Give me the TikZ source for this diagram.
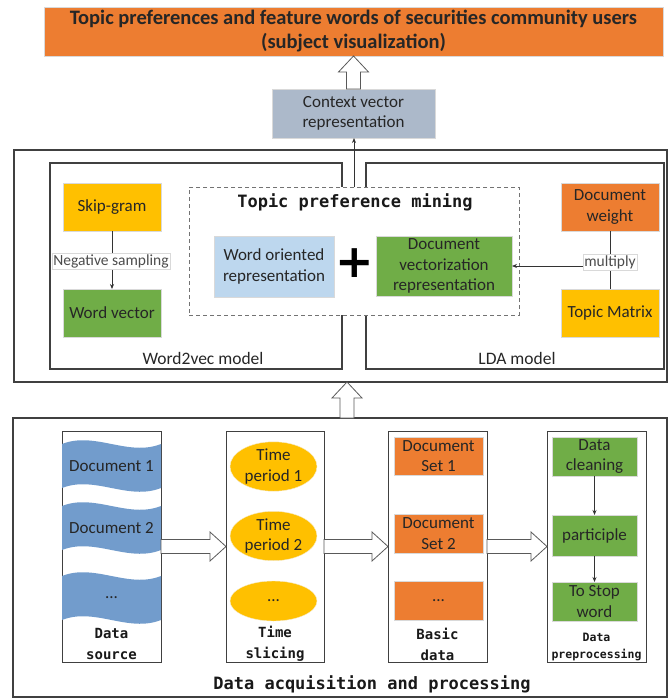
\documentclass[tikz,border=0pt]{standalone}
\usepackage{fontspec}
\setmainfont{Carlito}
\newfontfamily\heavymono{DejaVu Sans Mono}
\newfontfamily\plusfont{DejaVu Sans}
\usetikzlibrary{positioning,calc,arrows.meta,shapes.geometric}

\definecolor{offorange}{HTML}{ED7D31}
\definecolor{offyellow}{HTML}{FFC000}
\definecolor{offgreen}{HTML}{70AD47}
\definecolor{offblue}{HTML}{BDD7EE}
\definecolor{offgrayblue}{HTML}{ACB9CA}
\definecolor{wavefill}{HTML}{729CCC}
\definecolor{edgegray}{HTML}{404040}

\tikzset{
  panel/.style={draw=edgegray, line width=1.3pt, inner sep=0pt, outer sep=0pt},
  fillbox/.style={draw=black!15, line width=0.6pt, inner sep=1pt, outer sep=0pt,
    align=center, text=black!85, font=\fontsize{17}{20.5}\selectfont},
  minebox/.style={draw=black!55, dash pattern=on 4pt off 3pt, line width=0.9pt, inner sep=0pt, outer sep=0pt},
  monohead/.style={font=\heavymono\bfseries\fontsize{17}{20}\selectfont, text=black!90},
  colhead/.style={font=\heavymono\bfseries\fontsize{14}{21}\selectfont, align=center, text=black!90},
  onlinelabel/.style={fill=white, draw=black!15, line width=0.4pt, inner sep=1.5pt,
    font=\fontsize{15.5}{17}\selectfont, text=black!70},
  panelname/.style={font=\fontsize{17.5}{20}\selectfont, text=black!85},
  thinarrow/.style={draw=black!80, line width=0.8pt, -{Stealth[length=5pt,width=4pt]}},
  blockarrow/.style={draw=black!65, line width=0.8pt, fill=white},
  wavetext/.style={font=\fontsize{17}{20.5}\selectfont, text=black!85},
  period/.style={ellipse, fill=offyellow, draw=offyellow!80!black!20, inner sep=0pt,
    align=center, font=\fontsize{17}{20.5}\selectfont, text=black!85}
}

% hollow block arrows (x of #1 kept, tip at #2)
\newcommand\blockup[2]{\draw[blockarrow] let \p1=(#1), \p2=(#2) in
  (\x1-7pt,\y1) -- (\x1-7pt,\y2-16pt) -- (\x1-15pt,\y2-16pt) -- (\x1,\y2)
  -- (\x1+15pt,\y2-16pt) -- (\x1+7pt,\y2-16pt) -- (\x1+7pt,\y1) -- cycle;}
\newcommand\blockright[2]{\draw[blockarrow] let \p1=(#1), \p2=(#2) in
  (\x1,\y1-7pt) -- (\x2-16pt,\y1-7pt) -- (\x2-16pt,\y1-14.5pt) -- (\x2,\y1)
  -- (\x2-16pt,\y1+14.5pt) -- (\x2-16pt,\y1+7pt) -- (\x1,\y1+7pt) -- cycle;}
% wavy document band in the data source column
\newcommand\docwave[3]{%
  \fill[wavefill] (62,#2-22) .. controls (95,#2-35) and (128,#2-9) .. (161,#2-22)
    -- (161,#2+22) .. controls (128,#2+35) and (95,#2+9) .. (62,#2+22) -- cycle;
  \node[wavetext] (#1) at (111.5,#2) {#3};}

\begin{document}
\begin{tikzpicture}[x=1pt,y=-1pt]
\useasboundingbox (0,0) rectangle (668,698);

% result and context vector
\node[fillbox, fill=offorange, minimum width=619pt, minimum height=49pt,
  font=\bfseries\fontsize{20.5}{24}\selectfont] (result) at (353.5,31.5)
  {Topic preferences and feature words of securities community users\\(subject visualization)};
\node[fillbox, fill=offgrayblue, minimum width=163pt, minimum height=49pt,
  font=\fontsize{17}{20.5}\selectfont] (ctx) at (353.5,113.5) {Context vector\\representation};
\blockup{ctx.north}{result.south}

% model panel
\node[panel, minimum width=653pt, minimum height=232pt] (mid) at (340.5,266) {};
\node[panel, minimum width=292pt, minimum height=206pt] (w2v) at (196,266) {};
\node[panel, minimum width=298pt, minimum height=206pt] (lda) at (515,266) {};
\node[minebox, fill=white, minimum width=330pt, minimum height=128pt] (mining) at (354,251) {};
\node[monohead] (minetitle) at (355,202) {Topic preference mining};

\node[fillbox, fill=offyellow, minimum width=98pt, minimum height=48pt] (skip) at (112,207) {Skip-gram};
\node[fillbox, fill=offgreen, minimum width=98pt, minimum height=48pt] (wvec) at (112,313) {Word vector};
\draw[thinarrow] (skip) -- (wvec);
\node[onlinelabel] (negsamp) at (111,261) {Negative sampling};

\node[fillbox, fill=offblue, minimum width=120pt, minimum height=61pt] (worient) at (274,266.5) {Word oriented\\representation};
\node[font=\plusfont\bfseries\fontsize{46}{46}\selectfont] (plus) at (355,263) {+};
\node[fillbox, fill=offgreen, minimum width=136pt, minimum height=60pt] (docvec) at (444,266) {Document\\vectorization\\representation};

\node[fillbox, fill=offorange, minimum width=98pt, minimum height=48pt] (dweight) at (610,207) {Document\\weight};
\node[fillbox, fill=offyellow, minimum width=98pt, minimum height=48pt] (tmatrix) at (610,313) {Topic Matrix};
\draw[draw=black!80, line width=0.8pt] (dweight) -- (tmatrix);
\draw[thinarrow] (dweight.south |- docvec.east) -- (docvec.east);
\node[onlinelabel] (mult) at (610,262) {multiply};

\node[panelname] (w2vname) at (203,358) {Word2vec model};
\node[panelname] (ldaname) at (517,358) {LDA model};
\draw[thinarrow] (mining.north) -- (mining.north |- ctx.south);

% data panel
\node[panel, minimum width=654pt, minimum height=279pt] (bot) at (340,557.5) {};
\coordinate (gapfoot) at ($(bot.north)+(7,0)$);
\blockup{gapfoot}{mid.south}

\node[panel, line width=1pt, minimum width=99pt, minimum height=231pt] (src) at (111.5,546.5) {};
\node[panel, line width=1pt, minimum width=98pt, minimum height=231pt] (slice) at (275,546.5) {};
\node[panel, line width=1pt, minimum width=99pt, minimum height=231pt] (basic) at (437.5,546.5) {};
\node[panel, line width=1pt, minimum width=99pt, minimum height=231pt] (prep) at (596.5,546.5) {};

\docwave{doc1}{466}{Document 1}
\docwave{doc2}{528}{Document 2}
\docwave{doc3}{598}{...}

\node[period, minimum width=87pt, minimum height=47pt] (tp1) at (273.5,466.5) {Time\\period 1};
\node[period, minimum width=87pt, minimum height=48pt] (tp2) at (273.5,536) {Time\\period 2};
\node[period, minimum width=87pt, minimum height=40pt] (tp3) at (273.5,601) {...};

\node[fillbox, fill=offorange, minimum width=89pt, minimum height=38pt] (set1) at (438.5,456) {Document\\Set 1};
\node[fillbox, fill=offorange, minimum width=89pt, minimum height=39pt] (set2) at (438.5,533.5) {Document\\Set 2};
\node[fillbox, fill=offorange, minimum width=89pt, minimum height=39pt] (set3) at (438.5,600.5) {...};

\node[fillbox, fill=offgreen, minimum width=85pt, minimum height=39pt] (clean) at (594.5,456.5) {Data\\cleaning};
\node[fillbox, fill=offgreen, minimum width=85pt, minimum height=41pt] (part) at (594.5,535.5) {participle};
\node[fillbox, fill=offgreen, minimum width=85pt, minimum height=39pt] (stop) at (594.5,601.5) {To Stop\\word};
\draw[thinarrow] (clean) -- (part);
\draw[thinarrow] (part) -- (stop);

\node[colhead] (srcname) at (111.5,644) {Data\\source};
\node[colhead] (slicename) at (275,644) {Time\\slicing};
\node[colhead] (basicname) at (437.5,644) {Basic\\data};
\node[colhead, font=\heavymono\bfseries\fontsize{11.5}{17}\selectfont] (prepname) at (596.5,647) {Data\\preprocessing};

\blockright{src.east}{slice.west}
\blockright{slice.east}{basic.west}
\blockright{basic.east}{prep.west}

\node[monohead] (botname) at (372,684) {Data acquisition and processing};
\end{tikzpicture}
\end{document}
